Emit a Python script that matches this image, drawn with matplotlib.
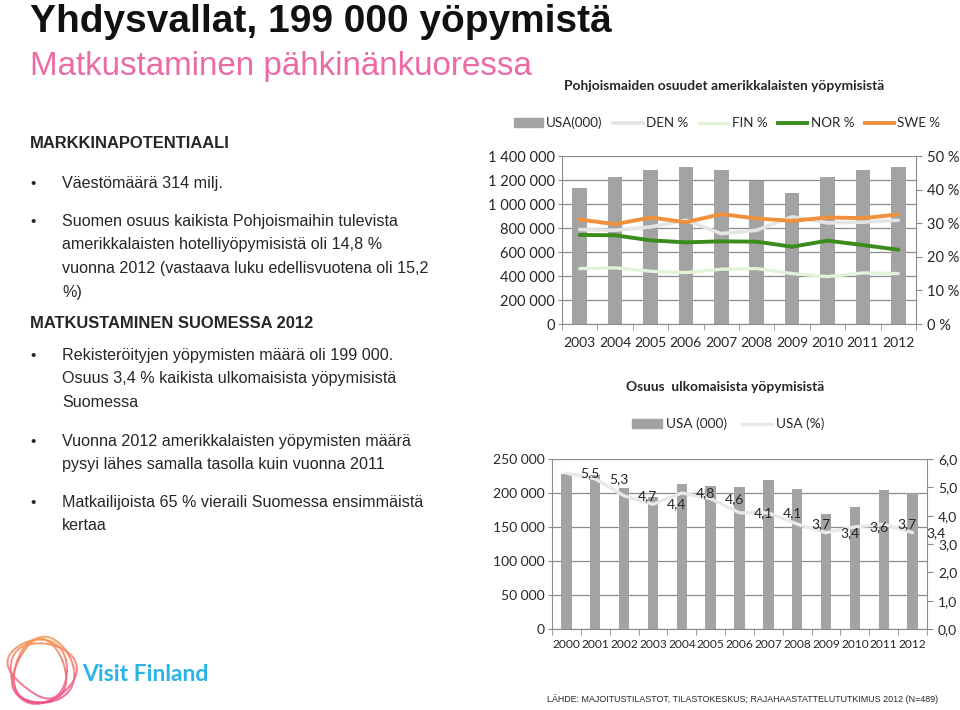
import numpy as np
import matplotlib
matplotlib.use("Agg")
import matplotlib.pyplot as plt
from matplotlib.ticker import FuncFormatter
from matplotlib.collections import LineCollection
from matplotlib.lines import Line2D
from matplotlib.patches import Patch

# --- data: Nordic shares of US overnights ---
years_top = ["2003", "2004", "2005", "2006", "2007", "2008", "2009", "2010", "2011", "2012"]
usa_000 = [1136000, 1228000, 1283000, 1311000, 1281000, 1192000, 1092000, 1228000, 1281000, 1308000]
den_pct = [28.1, 27.9, 28.9, 30.9, 26.9, 27.9, 31.9, 30.1, 30.3, 30.9]
fin_pct = [16.5, 16.7, 15.7, 15.3, 16.3, 16.5, 15.0, 14.1, 15.2, 15.0]
nor_pct = [26.5, 26.4, 24.9, 24.3, 24.6, 24.5, 23.0, 24.8, 23.5, 22.1]
swe_pct = [31.1, 29.7, 31.7, 30.3, 32.7, 31.4, 30.7, 31.7, 31.5, 32.6]

# --- data: share of foreign overnights in Finland ---
years_bot = ["2000", "2001", "2002", "2003", "2004", "2005", "2006",
             "2007", "2008", "2009", "2010", "2011", "2012"]
usa_fi = [228000, 226000, 208000, 194000, 213000, 211000, 209000,
          219000, 206000, 169000, 180000, 204000, 200000]
usa_fi_pct = [5.5, 5.3, 4.7, 4.4, 4.8, 4.6, 4.1, 4.1, 3.7, 3.4, 3.6, 3.7, 3.4]

W, H = 960, 710
BAR = "#a3a3a3"
GRID = "#8c8c8c"
TXT = "#262626"
CHART_FONT = "Lato"
BODY_FONT = "Liberation Sans"

plt.rcParams["font.family"] = [CHART_FONT, "DejaVu Sans"]


def fx(x):
    return x / W


def fy(y):
    return 1 - y / H


def box(l, t, r, b):
    return [fx(l), fy(b), (r - l) / W, (b - t) / H]


def spaced(v, pos=None):
    return f"{int(v):,}".replace(",", " ")


def style_axes(ax, n):
    ax.set_xlim(-0.5, n - 0.5)
    ax.set_axisbelow(True)
    ax.grid(axis="y", color=GRID, lw=0.9)
    for s in ["top", "right"]:
        ax.spines[s].set_visible(False)
    for s in ["left", "bottom"]:
        ax.spines[s].set_color(GRID)
    ax.set_xticks(np.arange(n))
    ax.set_xticks(np.arange(-0.5, n), minor=True)
    ax.tick_params(axis="x", which="major", length=0, colors=TXT)
    ax.tick_params(axis="x", which="minor", length=4, color=GRID)
    ax.tick_params(axis="y", length=3, color=GRID, pad=2, colors=TXT)
    ax.yaxis.set_major_formatter(FuncFormatter(spaced))


def style_twin(ax):
    for s in ["top", "left", "bottom"]:
        ax.spines[s].set_visible(False)
    ax.spines["right"].set_color(GRID)
    ax.tick_params(axis="y", length=4, color=GRID, pad=4, colors=TXT)


fig = plt.figure(figsize=(9.6, 7.1), dpi=100)

# ---------------- left text ----------------
fig.text(fx(30), fy(32), "Yhdysvallat, 199 000 yöpymistä", family=BODY_FONT,
         fontsize=28, weight="bold", color="#111111", va="baseline")
fig.text(fx(30), fy(75), "Matkustaminen pähkinänkuoressa", family=BODY_FONT,
         fontsize=23.9, color="#ec6aa6", va="baseline")

heads = [("MARKKINAPOTENTIAALI", 148), ("MATKUSTAMINEN SUOMESSA 2012", 328)]
for s, y in heads:
    fig.text(fx(30), fy(y), s, family=BODY_FONT, fontsize=11.9, weight="bold",
             color=TXT, va="baseline")

bullets = [
    (["Väestömäärä 314 milj."], 188),
    (["Suomen osuus kaikista Pohjoismaihin tulevista",
      "amerikkalaisten hotelliyöpymisistä oli 14,8 %",
      "vuonna 2012 (vastaava luku edellisvuotena oli 15,2",
      "%)"], 226),
    (["Rekisteröityjen yöpymisten määrä oli 199 000.",
      "Osuus 3,4 % kaikista ulkomaisista yöpymisistä",
      "Suomessa"], 360),
    (["Vuonna 2012 amerikkalaisten yöpymisten määrä",
      "pysyi lähes samalla tasolla kuin vuonna 2011"], 446),
    (["Matkailijoista 65 % vieraili Suomessa ensimmäistä",
      "kertaa"], 507),
]
for lines, y0 in bullets:
    fig.text(fx(30), fy(y0), "•", family=BODY_FONT, fontsize=11, color=TXT, va="baseline")
    for k, s in enumerate(lines):
        fig.text(fx(62), fy(y0 + 23.5 * k), s, family=BODY_FONT, fontsize=11.6,
                 color=TXT, va="baseline")

# ---------------- top chart ----------------
fig.text(fx(724), fy(86), "Pohjoismaiden osuudet amerikkalaisten yöpymisistä",
         ha="center", va="center", fontsize=9.9, weight="bold", color=TXT)

ax1 = fig.add_axes(box(562, 156, 916, 324))
n1 = len(years_top)
x1 = np.arange(n1)
ax1.bar(x1, usa_000, width=0.41, color=BAR, zorder=2)
ax1.set_ylim(0, 1400000)
ax1.set_yticks(np.arange(0, 1400001, 200000))
style_axes(ax1, n1)
ax1.set_xticklabels(years_top, fontsize=10)
ax1.tick_params(axis="x", pad=9)
ax1.tick_params(axis="y", labelsize=10.5)

ax2 = ax1.twinx()
ax2.plot(x1, den_pct, color="#e4e4e4", lw=2.6, solid_capstyle="round")
ax2.plot(x1, fin_pct, color="#e3f3da", lw=2.4, solid_capstyle="round")
ax2.plot(x1, nor_pct, color="#3b8c1c", lw=2.8, solid_capstyle="round")
ax2.plot(x1, swe_pct, color="#f0903c", lw=2.8, solid_capstyle="round")
ax2.set_ylim(0, 50)
ax2.set_yticks(np.arange(0, 51, 10))
ax2.yaxis.set_major_formatter(FuncFormatter(lambda v, p: f"{int(v)} %"))
style_twin(ax2)
ax2.tick_params(axis="y", labelsize=10.5)

h1 = [Patch(color=BAR),
      Line2D([], [], color="#e4e4e4", lw=2.6),
      Line2D([], [], color="#e3f3da", lw=2.4),
      Line2D([], [], color="#3b8c1c", lw=2.8),
      Line2D([], [], color="#f0903c", lw=2.8)]
fig.legend(h1, ["USA(000)", "DEN %", "FIN %", "NOR %", "SWE %"], loc="center",
           bbox_to_anchor=(fx(727), fy(123)), ncol=5, frameon=False, fontsize=9.6,
           handlelength=2.2, handleheight=0.6, handletextpad=0.25, columnspacing=0.8,
           labelcolor=TXT)

# ---------------- bottom chart ----------------
fig.text(fx(725), fy(387), "Osuus  ulkomaisista yöpymisistä",
         ha="center", va="center", fontsize=9.9, weight="bold", color=TXT)

ax3 = fig.add_axes(box(552, 459, 927, 629))
n2 = len(years_bot)
x2 = np.arange(n2)
ax3.bar(x2, usa_fi, width=0.36, color=BAR, zorder=2)
ax3.set_ylim(0, 250000)
ax3.set_yticks(np.arange(0, 250001, 50000))
style_axes(ax3, n2)
ax3.set_xticklabels(years_bot, fontsize=8.6)
ax3.tick_params(axis="x", pad=7)
ax3.tick_params(axis="y", labelsize=10)

ax4 = ax3.twinx()
ax4.plot(x2, usa_fi_pct, color="#e8e8e8", lw=2.4, solid_capstyle="round")
ax4.set_ylim(0, 6)
ax4.set_yticks(np.arange(0, 6.01, 1))
ax4.yaxis.set_major_formatter(FuncFormatter(lambda v, p: f"{v:.1f}".replace(".", ",")))
style_twin(ax4)
ax4.tick_params(axis="y", labelsize=10)
for i, v in enumerate(usa_fi_pct):
    ax4.text(i + 0.82, v, f"{v:.1f}".replace(".", ","), ha="center", va="center",
             fontsize=10, color=TXT, clip_on=False)

h2 = [Patch(color=BAR), Line2D([], [], color="#e8e8e8", lw=2.4)]
fig.legend(h2, ["USA (000)", "USA (%)"], loc="center",
           bbox_to_anchor=(fx(728), fy(424)), ncol=2, frameon=False, fontsize=9.8,
           handlelength=2.2, handleheight=0.6, handletextpad=0.3, columnspacing=1.1,
           labelcolor=TXT)

# ---------------- footer ----------------
fig.text(fx(547), fy(702), "LÄHDE: MAJOITUSTILASTOT, TILASTOKESKUS; RAJAHAASTATTELUTUTKIMUS 2012 (N=489)",
         family=BODY_FONT, fontsize=6.4, color=TXT, va="baseline")

# ---------------- logo ----------------
axl = fig.add_axes(box(0, 632, 80, 710))
axl.set_xlim(-1.15, 1.15)
axl.set_ylim(-1.1, 1.1)
axl.axis("off")
t = np.linspace(0, 2 * np.pi, 200)
loops = [(0.95, 0.85, 0.2, 0.0, -0.05), (0.85, 0.95, -0.5, 0.05, 0.0),
         (0.75, 0.9, 0.9, -0.05, 0.05), (0.9, 0.75, 1.6, 0.0, -0.1)]
cmap = matplotlib.colors.LinearSegmentedColormap.from_list("vf", ["#ec4b8c", "#f2717a", "#f59a4a"])
for a, b, rot, dx, dy in loops:
    px = a * np.cos(t) + 0.12 * np.cos(2 * t)
    py = b * np.sin(t)
    xr = px * np.cos(rot) - py * np.sin(rot) + dx
    yr = px * np.sin(rot) + py * np.cos(rot) + dy
    pts = np.column_stack([xr, yr]).reshape(-1, 1, 2)
    segs = np.concatenate([pts[:-1], pts[1:]], axis=1)
    lc = LineCollection(segs, cmap=cmap, norm=plt.Normalize(-1, 1), lw=1.4)
    lc.set_array((yr[:-1] + yr[1:]) / 2)
    axl.add_collection(lc)
fig.text(fx(82), fy(681), "Visit Finland", family=CHART_FONT, fontsize=16.5,
         weight="bold", color="#2ab4e6", va="baseline")

fig.savefig("out.png", dpi=100)
